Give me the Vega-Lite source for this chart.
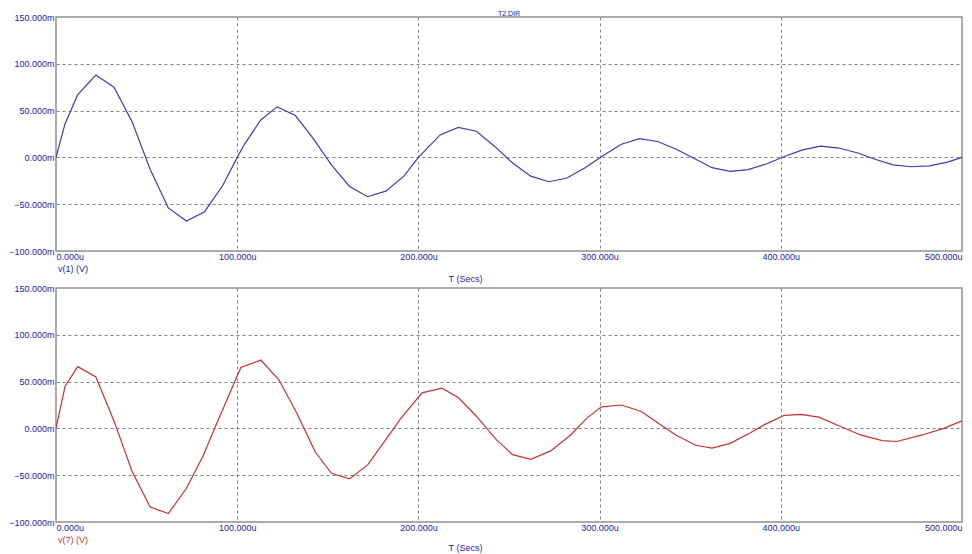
{
  "$schema": "https://vega.github.io/schema/vega-lite/v6.json",
  "background": "white",
  "padding": {"left": 7, "top": 9, "right": 5, "bottom": 0},
  "bounds": "flush",
  "spacing": 37,
  "datasets": {
    "v1": [{"t":0,"v":0},{"t":5,"v":36},{"t":12,"v":67},{"t":22,"v":88},{"t":32,"v":75},{"t":42,"v":38},{"t":52,"v":-13},{"t":62,"v":-54},{"t":72,"v":-68},{"t":82,"v":-58},{"t":92,"v":-30},{"t":100,"v":0},{"t":104,"v":14},{"t":113,"v":40},{"t":122,"v":54},{"t":132,"v":45},{"t":142,"v":20},{"t":152,"v":-8},{"t":162,"v":-31},{"t":172,"v":-42},{"t":182,"v":-36},{"t":192,"v":-20},{"t":200,"v":0},{"t":212,"v":24},{"t":222,"v":32},{"t":232,"v":28},{"t":242,"v":12},{"t":252,"v":-6},{"t":262,"v":-20},{"t":272,"v":-26},{"t":282,"v":-22},{"t":292,"v":-11},{"t":302,"v":2},{"t":312,"v":14},{"t":322,"v":20},{"t":332,"v":17},{"t":342,"v":9},{"t":352,"v":-1},{"t":362,"v":-11},{"t":372,"v":-15},{"t":382,"v":-13},{"t":392,"v":-7},{"t":402,"v":1},{"t":412,"v":8},{"t":422,"v":12},{"t":432,"v":10},{"t":442,"v":5},{"t":452,"v":-2},{"t":462,"v":-8},{"t":472,"v":-10},{"t":482,"v":-9},{"t":492,"v":-5},{"t":500,"v":0}],
    "v7": [{"t":0,"v":0},{"t":5,"v":45},{"t":12,"v":66},{"t":22,"v":55},{"t":32,"v":8},{"t":42,"v":-46},{"t":52,"v":-84},{"t":62,"v":-91},{"t":72,"v":-64},{"t":81,"v":-30},{"t":88,"v":2},{"t":102,"v":65},{"t":113,"v":73},{"t":123,"v":52},{"t":133,"v":16},{"t":143,"v":-25},{"t":152,"v":-48},{"t":162,"v":-54},{"t":172,"v":-39},{"t":182,"v":-12},{"t":190,"v":10},{"t":202,"v":38},{"t":213,"v":43},{"t":222,"v":33},{"t":232,"v":13},{"t":243,"v":-12},{"t":252,"v":-28},{"t":262,"v":-33},{"t":273,"v":-24},{"t":284,"v":-7},{"t":293,"v":11},{"t":301,"v":23},{"t":312,"v":25},{"t":323,"v":18},{"t":332,"v":6},{"t":342,"v":-7},{"t":353,"v":-18},{"t":362,"v":-21},{"t":372,"v":-16},{"t":383,"v":-5},{"t":391,"v":4},{"t":402,"v":14},{"t":411,"v":15},{"t":421,"v":12},{"t":433,"v":2},{"t":444,"v":-7},{"t":456,"v":-13},{"t":464,"v":-14},{"t":478,"v":-7},{"t":490,"v":0},{"t":500,"v":8}]
  },
  "config": {
    "view": {"stroke": "#909090", "strokeWidth": 1.5},
    "font": "Liberation Sans",
    "axis": {
      "labelFont": "Liberation Sans",
      "labelFontSize": 9,
      "labelColor": "#2222aa",
      "ticks": false,
      "domain": false,
      "grid": true,
      "gridColor": "#808080",
      "gridDash": [3, 3],
      "gridWidth": 1
    },
    "legend": {
      "orient": "none",
      "legendX": -7,
      "legendY": 247,
      "title": null,
      "symbolSize": 0,
      "symbolStrokeWidth": 0,
      "labelOffset": 0,
      "labelFontSize": 9,
      "labelFont": "Liberation Sans",
      "padding": 0
    }
  },
  "resolve": {"scale": {"color": "independent"}, "legend": {"color": "independent"}},
  "vconcat": [
    {
      "width": 906,
      "height": 234,
      "title": {"text": "T2.DIR", "fontSize": 7, "color": "#2222aa", "font": "Liberation Sans", "fontWeight": "normal", "offset": -4, "anchor": "middle"},
      "data": {"name": "v1"},
      "mark": {"type": "line", "strokeWidth": 1.2, "clip": true},
      "encoding": {
        "x": {"field": "t", "type": "quantitative", "scale": {"domain": [0, 500], "nice": false},
          "axis": {"values": [0, 100, 200, 300, 400, 500], "labelExpr": "format(datum.value, '.3f') + 'u'", "labelFlush": true, "labelPadding": 1,
            "gridOpacity": {"condition": {"test": "datum.value == 0 || datum.value == 500", "value": 0}, "value": 1},
            "title": "T (Secs)", "titleFont": "Liberation Sans", "titleFontSize": 9, "titleFontWeight": "normal", "titleColor": "#2222aa",
            "titleX": 409, "titleY": 27, "titleBaseline": "middle", "titleAlign": "center", "titleAnchor": null}},
        "y": {"field": "v", "type": "quantitative", "scale": {"domain": [-100, 150], "nice": false},
          "axis": {"values": [-100, -50, 0, 50, 100, 150], "labelExpr": "format(datum.value, '.3f') + 'm'", "labelFlush": false, "labelPadding": 2,
            "gridOpacity": {"condition": {"test": "datum.value == -100 || datum.value == 150", "value": 0}, "value": 1},
            "title": null}},
        "color": {"datum": "v(1) (V)", "scale": {"range": ["#3c3cb4"]}, "legend": {"labelColor": "#2222aa"}}
      }
    },
    {
      "width": 906,
      "height": 234,
      "data": {"name": "v7"},
      "mark": {"type": "line", "strokeWidth": 1.2, "clip": true},
      "encoding": {
        "x": {"field": "t", "type": "quantitative", "scale": {"domain": [0, 500], "nice": false},
          "axis": {"values": [0, 100, 200, 300, 400, 500], "labelExpr": "format(datum.value, '.3f') + 'u'", "labelFlush": true, "labelPadding": 1,
            "gridOpacity": {"condition": {"test": "datum.value == 0 || datum.value == 500", "value": 0}, "value": 1},
            "title": "T (Secs)", "titleFont": "Liberation Sans", "titleFontSize": 9, "titleFontWeight": "normal", "titleColor": "#2222aa",
            "titleX": 409, "titleY": 25, "titleBaseline": "middle", "titleAlign": "center", "titleAnchor": null}},
        "y": {"field": "v", "type": "quantitative", "scale": {"domain": [-100, 150], "nice": false},
          "axis": {"values": [-100, -50, 0, 50, 100, 150], "labelExpr": "format(datum.value, '.3f') + 'm'", "labelFlush": false, "labelPadding": 2,
            "gridOpacity": {"condition": {"test": "datum.value == -100 || datum.value == 150", "value": 0}, "value": 1},
            "title": null}},
        "color": {"datum": "v(7) (V)", "scale": {"range": ["#c83232"]}, "legend": {"labelColor": "#c83232"}}
      }
    }
  ]
}
